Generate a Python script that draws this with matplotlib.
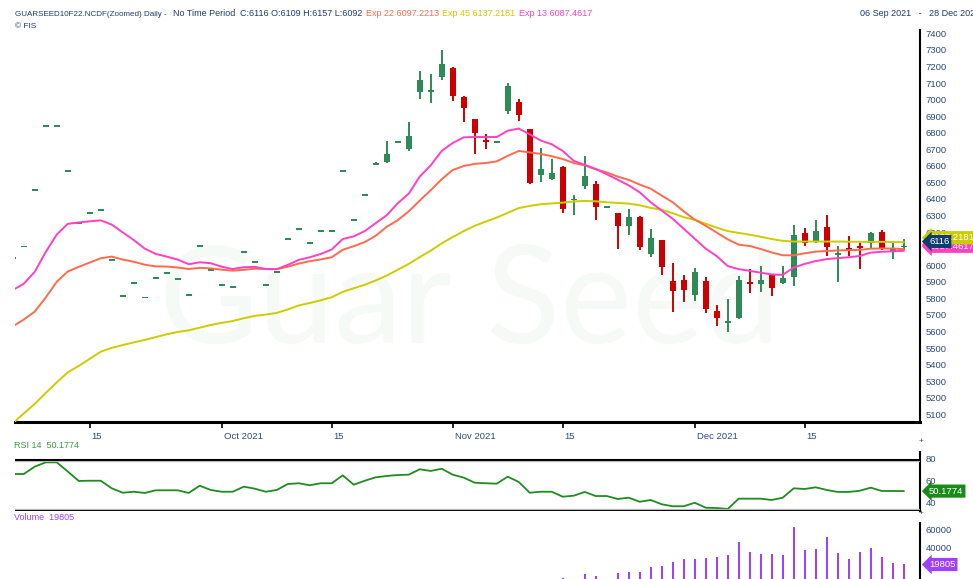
import matplotlib
matplotlib.use('Agg')
import matplotlib.pyplot as plt
import matplotlib.transforms as mtransforms
import numpy as np

plt.rcParams['font.family'] = ['Liberation Sans', 'DejaVu Sans']

W, H = 973, 579

# ---------------- data ----------------
tick_pos = [7, 19, 29, 40, 50, 62, 72]
tick_labels = ['15', 'Oct 2021', '15', 'Nov 2021', '15', 'Dec 2021', '15']

dash_vals = [6046, 6113, 6453, 6841, 6841, 6567, 6253, 6314, 6332, 6032, 5813,
             5893, 5805, 5925, 5952, 5915, 5821, 6117, 5972, 5881, 5867, 6078,
             6019, 5881, 5958, 6159, 6217, 6134, 6209, 6207, 6567, 6271, 6424]

open_tail = [6608, 6624, 6744, 6700, 7046, 7050, 7139, 7189, 7018, 6885, 6758,
             6744, 6928, 6988, 6825, 6543, 6519, 6595, 6392, 6479, 6488, 6350,
             6318, 6234, 6294, 6066, 6151, 5905, 5909, 5821, 5905, 5725, 5655,
             5684, 5901, 5885, 5939, 5895, 5930, 6192, 6148, 6232, 6062, 6104,
             6117, 6134, 6201, 6084, 6109]
high_tail = [6622, 6750, 6748, 6865, 7173, 7157, 7297, 7195, 7020, 6885, 6795,
             6748, 7103, 7006, 6825, 6706, 6639, 6600, 6422, 6660, 6509, 6354,
             6318, 6338, 6300, 6217, 6151, 6016, 5942, 5986, 5926, 5760, 5795,
             5932, 5976, 5996, 5940, 5996, 6241, 6227, 6271, 6303, 6117, 6177,
             6137, 6203, 6211, 6137, 6157]
low_tail = [6604, 6620, 6744, 6690, 7002, 6982, 7119, 6992, 6867, 6670, 6700,
            6744, 6910, 6871, 6493, 6503, 6513, 6318, 6303, 6459, 6271, 6350,
            6096, 6180, 6090, 6050, 5940, 5718, 5775, 5784, 5714, 5634, 5598,
            5674, 5835, 5839, 5817, 5889, 5875, 6117, 6137, 6056, 5900, 6056,
            5976, 6096, 6092, 6036, 6092]
close_tail = [6616, 6674, 6748, 6780, 7116, 7058, 7217, 7022, 6949, 6798, 6746,
              6748, 7083, 6905, 6499, 6579, 6559, 6338, 6402, 6539, 6352, 6354,
              6237, 6292, 6107, 6163, 5987, 5845, 5851, 5962, 5734, 5684, 5664,
              5909, 5889, 5909, 5865, 5921, 6184, 6132, 6204, 6107, 6076, 6089,
              6104, 6194, 6103, 6096, 6116]

ema13 = [5850, 5888, 5960, 6080, 6185, 6250, 6258, 6265, 6271, 6245, 6198, 6152,
         6100, 6068, 6052, 6034, 6006, 6018, 6012, 5991, 5977, 5988, 5990, 5977,
         5976, 6002, 6032, 6048, 6068, 6095, 6158, 6174, 6206, 6254, 6302, 6374,
         6432, 6535, 6603, 6690, 6738, 6772, 6774, 6774, 6774, 6812, 6825, 6790,
         6753, 6730, 6690, 6630, 6606, 6581, 6549, 6516, 6482, 6440, 6380, 6330,
         6280, 6220, 6160, 6100, 6055, 5995, 5976, 5966, 5955, 5944, 5942, 5986,
         6008, 6025, 6037, 6043, 6048, 6056, 6076, 6081, 6084, 6087]
ema22 = [5630, 5672, 5720, 5805, 5900, 5962, 5990, 6016, 6042, 6052, 6034, 6021,
         6003, 5993, 5992, 5986, 5977, 5984, 5981, 5973, 5967, 5972, 5979, 5977,
         5976, 5991, 6010, 6024, 6035, 6048, 6093, 6115, 6140, 6178, 6232, 6272,
         6325, 6390, 6453, 6519, 6575, 6599, 6612, 6617, 6627, 6660, 6690, 6681,
         6672, 6658, 6641, 6617, 6603, 6579, 6560, 6535, 6515, 6487, 6462, 6420,
         6380, 6325, 6275, 6238, 6197, 6156, 6124, 6116, 6098, 6077, 6060, 6060,
         6072, 6082, 6086, 6089, 6091, 6092, 6100, 6101, 6101, 6097]
ema45 = [5045, 5105, 5163, 5229, 5293, 5353, 5392, 5435, 5478, 5501, 5518, 5534,
         5549, 5566, 5583, 5597, 5607, 5623, 5639, 5652, 5663, 5680, 5694, 5702,
         5712, 5733, 5757, 5772, 5788, 5807, 5839, 5861, 5882, 5908, 5937, 5973,
         6008, 6049, 6088, 6132, 6170, 6206, 6238, 6263, 6288, 6316, 6345, 6358,
         6368, 6373, 6378, 6385, 6388, 6386, 6380, 6376, 6372, 6362, 6346, 6335,
         6314, 6290, 6274, 6250, 6227, 6206, 6195, 6184, 6172, 6158, 6147, 6143,
         6143, 6143, 6143, 6143, 6142, 6141, 6141, 6141, 6140, 6139, 6137]

rsi = [65.7, 65.7, 72.4, 76.3, 76.3, 68.0, 59.4, 59.6, 59.6, 52.7, 48.7, 49.6,
       48.5, 50.9, 50.9, 50.9, 48.5, 55.1, 51.2, 49.6, 49.6, 54.2, 52.4, 49.6,
       51.2, 56.6, 57.3, 55.5, 57.3, 57.3, 64.5, 56.0, 59.6, 62.7, 63.9, 64.8,
       65.1, 70.0, 68.5, 70.5, 65.1, 62.4, 57.8, 57.3, 56.9, 63.3, 58.5, 48.7,
       49.6, 49.6, 45.1, 46.0, 49.4, 45.7, 45.7, 43.0, 44.2, 40.5, 42.1, 38.2,
       36.4, 36.4, 39.6, 35.1, 34.8, 33.9, 43.3, 43.3, 43.3, 42.1, 44.2, 52.7,
       52.1, 53.6, 51.2, 49.4, 49.4, 50.5, 53.3, 50.3, 50.3, 50.1774]

volume_tail = [4400, 0, 8400, 6800, 0, 9600, 10700, 10700, 16900, 18100, 23100,
               26200, 26600, 27700, 28500, 31200, 46000, 34400, 32000, 32000,
               30500, 63100, 37000, 38200, 51800, 32800, 26200, 34400, 38700,
               28900, 21500, 19805]

opens = dash_vals + open_tail
highs = dash_vals + high_tail
lows = dash_vals + low_tail
closes = dash_vals + close_tail
ema45 = ema45[:len(opens)]
volume = [0] * (len(opens) - len(volume_tail)) + volume_tail
n = len(opens)
x = np.arange(n)
# -----------------------------------------------------------------

GREEN = '#2E8B57'
RED = '#CC0000'
PINK = '#FF40C0'
ORANGE = '#FF6A4D'
YELLOW = '#CCCC00'
NAVY = '#1F3A6B'
TICKC = '#2B4A7A'
PURPLE = '#A040FF'
RSIG = '#1E8C1E'

fig = plt.figure(figsize=(W / 100, H / 100), dpi=100)


def rect(x0, y0, x1, y1):
    return [x0 / W, 1 - y1 / H, (x1 - x0) / W, (y1 - y0) / H]


XL = (0.16, 82.48)

# ---- main price panel ----
ax = fig.add_axes(rect(14.5, 30, 920, 422))
ax.set_xlim(*XL)
ax.set_ylim(5053.5, 7420)
ax.text(0.503, 0.30, 'Guar Seed', transform=ax.transAxes, ha='center', va='center',
        fontsize=98, color='#F6FAF7', family=['Lato', 'DejaVu Sans'], zorder=0.2)

o = np.array(opens); c = np.array(closes); hh = np.array(highs); ll = np.array(lows)
cols = np.where(c >= o, GREEN, RED)
ax.vlines(x, ll, hh, colors=cols, lw=1.4, zorder=2)
body = np.maximum(np.abs(c - o), 11)
bottom = np.minimum(o, c) - np.where(np.abs(c - o) < 11, (11 - np.abs(c - o)) / 2, 0)
ax.bar(x, body, bottom=bottom, width=0.58, color=cols, edgecolor=cols, lw=0, zorder=3)

ax.plot(x, ema45, color=YELLOW, lw=1.4, zorder=4)
ax.plot(x, ema22, color=ORANGE, lw=1.4, zorder=4)
ax.plot(x, ema13, color=PINK, lw=1.4, zorder=4)

ax.yaxis.tick_right()
ax.set_yticks(np.arange(5100, 7401, 100))
ax.tick_params(axis='y', length=0, pad=4, labelsize=6.8, labelcolor=TICKC)
ax.set_xticks(tick_pos)
ax.set_xticklabels(tick_labels)
ax.tick_params(axis='x', length=4, width=1.2, color='black', pad=3, labelsize=6.8, labelcolor=TICKC)
shift = mtransforms.ScaledTranslation(2 / 100, 0, fig.dpi_scale_trans)
for lbl in ax.get_xticklabels():
    lbl.set_horizontalalignment('left')
    lbl.set_transform(lbl.get_transform() + shift)
for s in ['top', 'left']:
    ax.spines[s].set_visible(False)
ax.spines['right'].set_linewidth(1.5)
ax.spines['bottom'].set_linewidth(2.2)


def tag(axis, yval, txt, fc, z, dy=4.5, fs=6.8):
    tr = mtransforms.blended_transform_factory(axis.transAxes, axis.transData)
    tr = tr + mtransforms.ScaledTranslation(9 / 100, dy / 100, fig.dpi_scale_trans)
    axis.text(1.0, yval, txt, transform=tr, ha='left', va='center', fontsize=fs,
              color='white', zorder=z, clip_on=False,
              bbox=dict(boxstyle='larrow,pad=0.22', fc=fc, ec=fc, lw=0))


tag(ax, ema22[-1], '6097.2213', ORANGE, 10)
tag(ax, ema13[-1], '6087.4617', PINK, 11)
tag(ax, ema45[-1], '6137.2181', YELLOW, 12)
tag(ax, closes[-1], '6116', '#0F3D6E', 13)

# ---- RSI panel ----
ar = fig.add_axes(rect(14.5, 452, 920, 511))
ar.set_xlim(*XL)
ar.set_ylim(32.1, 85.7)
ar.plot(x, rsi, color=RSIG, lw=1.3, zorder=3)
ar.axhline(78.45, color='black', lw=2.2, zorder=4)
ar.axhline(77.6, color='#bbbbbb', lw=0.8, zorder=4)
ar.axhline(33.45, color='black', lw=2.2, zorder=4)
ar.axhline(34.3, color='#bbbbbb', lw=0.8, zorder=4)
ar.yaxis.tick_right()
ar.set_yticks([40, 60, 80])
ar.tick_params(axis='y', length=0, pad=4, labelsize=6.8, labelcolor=TICKC)
ar.set_xticks([])
for s in ['top', 'left', 'bottom']:
    ar.spines[s].set_visible(False)
ar.spines['right'].set_linewidth(1.5)
tag(ar, rsi[-1], '50.1774', '#1A8A1A', 10, dy=0)

# ---- Volume panel ----
av = fig.add_axes(rect(14.5, 523, 920, 590))
av.set_xlim(*XL)
av.set_ylim(-9900, 68140)
av.bar(x, volume, width=0.17, color=PURPLE, lw=0)
av.yaxis.tick_right()
av.set_yticks([0, 20000, 40000, 60000])
av.tick_params(axis='y', length=0, pad=4, labelsize=6.8, labelcolor=TICKC)
av.set_xticks([])
for s in ['top', 'left', 'bottom']:
    av.spines[s].set_visible(False)
av.spines['right'].set_linewidth(1.5)
tag(av, volume[-1], '19805', PURPLE, 10, dy=0)

# ---- header texts ----
def ftxt(px, py, s, color, fs=6.5):
    fig.text(px / W, 1 - py / H, s, color=color, fontsize=fs, ha='left', va='center')


ftxt(15, 14, 'GUARSEED10F22.NCDF(Zoomed) Daily -', NAVY, fs=5.8)
ftxt(173, 14, 'No Time Period', NAVY)
ftxt(240, 14, 'C:6116 O:6109 H:6157 L:6092', NAVY)
ftxt(366, 14, 'Exp 22 6097.2213', ORANGE)
ftxt(442, 14, 'Exp 45 6137.2181', YELLOW)
ftxt(519, 14, 'Exp 13 6087.4617', PINK)
ftxt(15, 26, '\u00a9 FIS', NAVY, fs=6)
ftxt(860, 14, '06 Sep 2021   -   28 Dec 2021', NAVY)
ftxt(14, 446, 'RSI 14  50.1774', '#3C9A3C')
ftxt(14, 518, 'Volume  19805', PURPLE)
fig.text(921 / W, 1 - 442 / H, '+', color='#444444', fontsize=6, ha='center', va='center')
fig.text(921 / W, 1 - 513 / H, '+', color='#444444', fontsize=6, ha='center', va='center')

fig.savefig('out.png', dpi=100)
